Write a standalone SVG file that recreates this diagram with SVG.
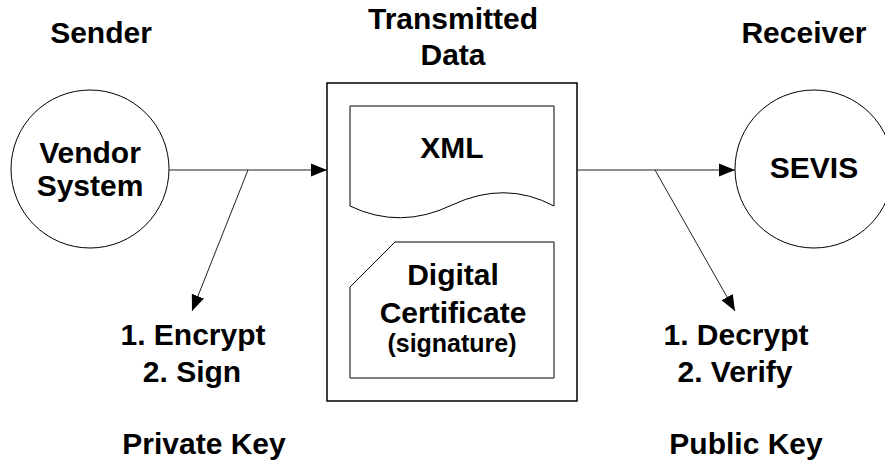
<svg xmlns="http://www.w3.org/2000/svg" width="885" height="465" viewBox="0 0 885 465">
<defs>
<style>
text{font-family:"Liberation Sans",Arial,sans-serif;font-weight:bold;fill:#000;text-anchor:middle}
.t{font-size:30px}
.s{font-size:25px}
.shape{fill:#fff;stroke:#000;stroke-width:1}
.box{fill:#fff;stroke:#000;stroke-width:1.5}
.conn{fill:none;stroke:#222;stroke-width:1}
</style>
<marker id="ah" markerUnits="userSpaceOnUse" markerWidth="16" markerHeight="16" viewBox="0 0 16 16" refX="16" refY="8" orient="auto">
<path d="M0,1.5 L16,8 L0,14.5 Z" fill="#000"/>
</marker>
</defs>
<rect width="885" height="465" fill="#fff"/>
<g id="labels">
<text class="t" x="101" y="43">Sender</text>
<text class="t" x="453" y="29">Transmitted</text>
<text class="t" x="453" y="65">Data</text>
<text class="t" x="804" y="43">Receiver</text>
</g>
<g id="vendor">
<circle class="shape" cx="90" cy="169" r="79"/>
<text class="t" x="90" y="163">Vendor</text>
<text class="t" x="90" y="196">System</text>
</g>
<g id="sevis">
<circle class="shape" cx="814" cy="169" r="79"/>
<text class="t" x="814" y="178">SEVIS</text>
</g>
<g id="transmitted">
<rect class="box" x="327" y="83" width="250" height="318"/>
</g>
<g id="xml">
<path class="shape" d="M350,206 V106 H554 V206 Q505,180 452,205 Q400,230 350,206 Z"/>
<text class="t" x="452" y="158">XML</text>
</g>
<g id="certificate">
<path class="shape" d="M395,242 H554 V378 H350 V287 Z"/>
<text class="t" x="453" y="285">Digital</text>
<text class="t" x="453" y="323">Certificate</text>
<text class="s" x="452" y="352">(signature)</text>
</g>
<g id="connectors">
<line class="conn" x1="169" y1="170" x2="327" y2="170" marker-end="url(#ah)"/>
<line class="conn" x1="248" y1="170" x2="192" y2="311" marker-end="url(#ah)"/>
<line class="conn" x1="577" y1="170" x2="735" y2="170" marker-end="url(#ah)"/>
<line class="conn" x1="655" y1="170" x2="735" y2="311" marker-end="url(#ah)"/>
</g>
<g id="sender-notes">
<text class="t" x="193" y="345">1. Encrypt</text>
<text class="t" x="192" y="382">2. Sign</text>
<text class="t" x="204" y="454">Private Key</text>
</g>
<g id="receiver-notes">
<text class="t" x="736" y="345">1. Decrypt</text>
<text class="t" x="735" y="382">2. Verify</text>
<text class="t" x="746" y="454">Public Key</text>
</g>
</svg>
